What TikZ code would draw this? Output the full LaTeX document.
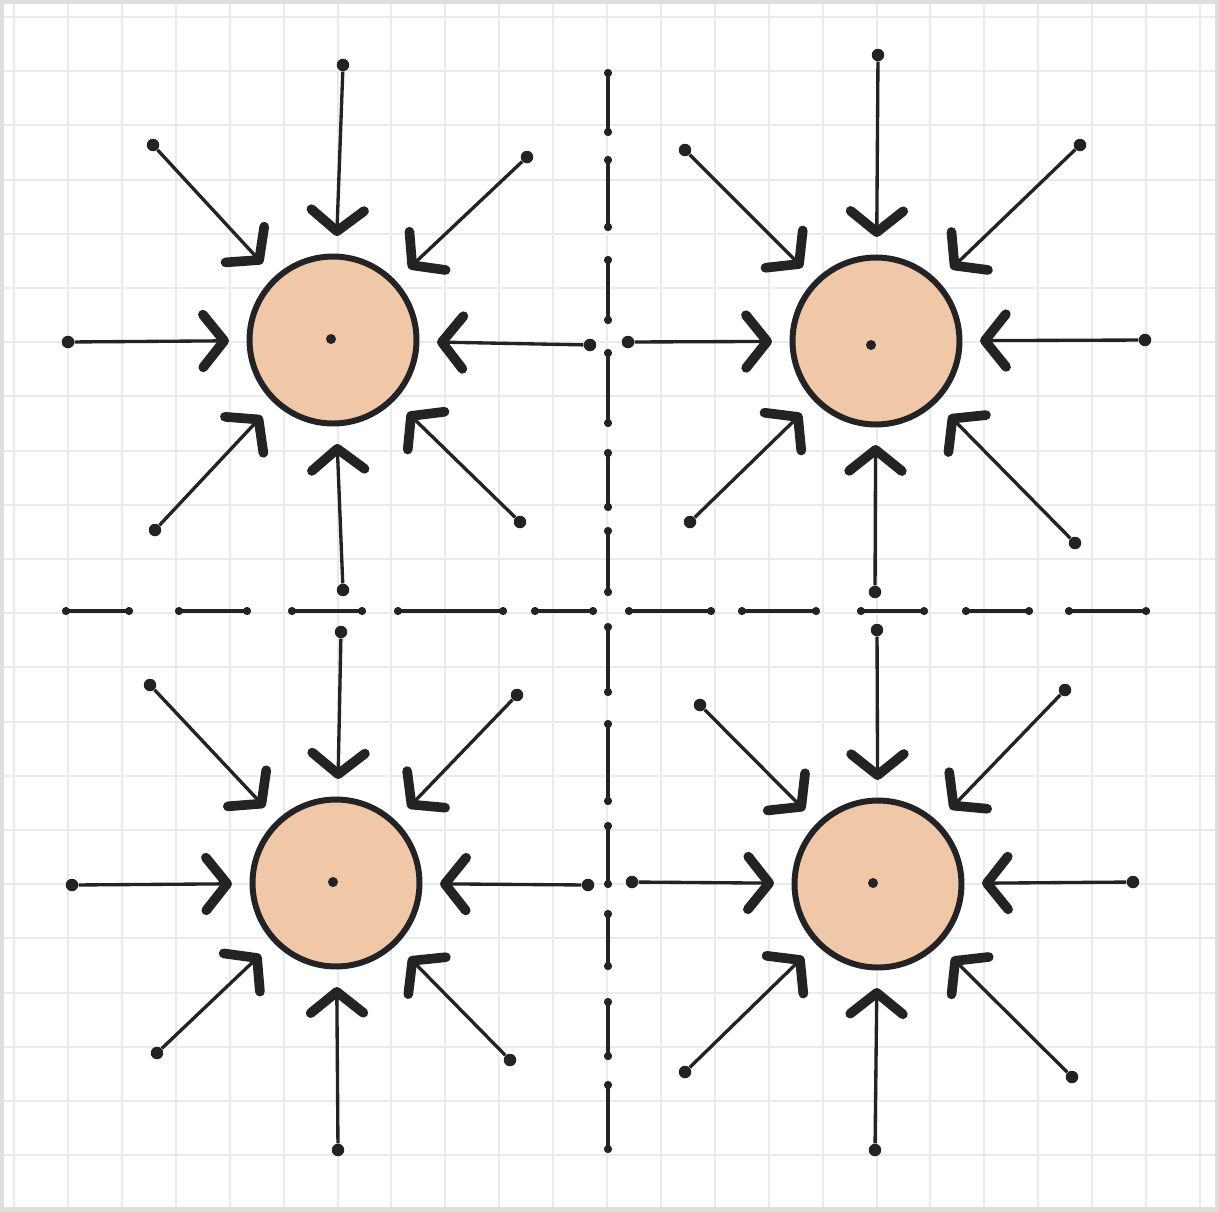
\documentclass[tikz,border=0pt]{standalone}
\usetikzlibrary{arrows.meta}
\definecolor{ink}{RGB}{35,35,38}
\definecolor{gridc}{RGB}{232,235,237}
\definecolor{clay}{RGB}{240,200,168}
\definecolor{paperedge}{RGB}{222,222,222}

\begin{document}
\begin{tikzpicture}[
    x=0.02cm, y=-0.02cm,
    gridline/.style={gridc, line width=0.04cm},
    grain/.style={circle, draw=ink, line width=3.4pt, fill=clay,
                  minimum size=3.34cm, inner sep=0pt},
    src/.style={circle, fill=ink, inner sep=0pt, minimum size=0.25cm},
    pull/.style={draw=ink, line width=1.9pt, shorten >=10pt,
                 -{Straight Barb[length=12pt, width=30pt, line width=5.5pt, round]}},
    cut/.style={draw=ink, line width=2.1pt,
                {Circle[length=4.5pt]}-{Circle[length=4.5pt]}},
]
\useasboundingbox (0,0) rectangle (1219,1211);
% squared paper
\fill[white] (0,0) rectangle (1219,1211);
\foreach \k in {-1,...,21}
  \draw[gridline] ({68+53.9*\k},0) -- ({68+53.9*\k},1211);
\foreach \k in {0,...,22}
  \draw[gridline] (0,{17+54.2*\k}) -- (1219,{17+54.2*\k});
\draw[paperedge, line width=0.16cm] (0,0) rectangle (1219,1211);

% dashed cell borders
\foreach \a/\b in {69/136, 156/231, 256/324, 349/427, 449/511, 527/596,
                   623/696, 720/805, 822/888, 910/970, 998/1060, 1081/1153}
  \draw[cut] (608,\a) -- (608,\b);
\foreach \a/\b in {62/133, 175/251, 288/366, 394/507, 531/597,
                   625/715, 738/820, 857/928, 962/1033, 1065/1150}
  \draw[cut] (\a,611) -- (\b,611);

% top left grain
\node[grain] (tl) at (333,340) {};
\fill[ink] (331,339) circle[radius=0.1cm];
\foreach \n/\x/\y in {n/343/65, ne/527/157, e/590/345, se/520/522,
                      s/343/590, sw/155/530, w/68/342, nw/153/145}
  {\node[src] (tl-\n) at (\x,\y) {};
   \draw[pull] (tl-\n) -- (tl);}

% top right grain
\node[grain] (tr) at (876,341) {};
\fill[ink] (871,345) circle[radius=0.1cm];
\foreach \n/\x/\y in {n/878/55, ne/1080/145, e/1145/340, se/1075/543,
                      s/875/592, sw/690/522, w/628/342, nw/685/150}
  {\node[src] (tr-\n) at (\x,\y) {};
   \draw[pull] (tr-\n) -- (tr);}

% bottom left grain
\node[grain] (bl) at (336,883) {};
\fill[ink] (333,882) circle[radius=0.1cm];
\foreach \n/\x/\y in {n/341/632, ne/517/695, e/588/885, se/510/1060,
                      s/338/1150, sw/157/1053, w/72/885, nw/150/685}
  {\node[src] (bl-\n) at (\x,\y) {};
   \draw[pull] (bl-\n) -- (bl);}

% bottom right grain
\node[grain] (br) at (878,884) {};
\fill[ink] (873,883) circle[radius=0.1cm];
\foreach \n/\x/\y in {n/877/630, ne/1065/690, e/1133/882, se/1072/1077,
                      s/875/1150, sw/685/1072, w/632/882, nw/700/705}
  {\node[src] (br-\n) at (\x,\y) {};
   \draw[pull] (br-\n) -- (br);}
\end{tikzpicture}
\end{document}
